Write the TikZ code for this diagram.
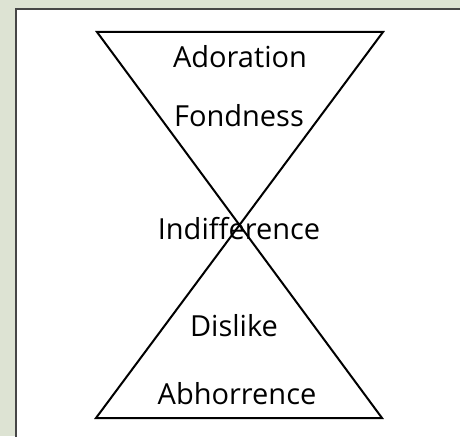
\documentclass[tikz,border=0pt]{standalone}
\usepackage{fontspec}
\setmainfont{Open Sans}
\begin{document}
\begin{tikzpicture}[x=1pt,y=-1pt,
  lbl/.style={inner sep=0pt,font=\fontsize{29}{34}\selectfont},
  edge/.style={draw=black,line width=2pt,line join=miter}]
\useasboundingbox (0,0) rectangle (460,436);
\fill[fill={rgb,255:red,221;green,227;blue,211}] (0,0) rectangle (460,436);
\filldraw[fill=white,draw={rgb,255:red,70;green,70;blue,70},line width=1.6pt] (16,9) rectangle (470,446);
\coordinate (tl) at (97,32);
\coordinate (tr) at (383,32);
\coordinate (bl) at (96,418);
\coordinate (br) at (382,418);
\draw[edge] (tl) -- (tr) -- (bl) -- (br) -- cycle;
\node[lbl] (ado) at (240,57) {Adoration};
\node[lbl] (fon) at (239,116) {Fondness};
\node[lbl] (ind) at (239,229) {Indifference};
\node[lbl] (dis) at (234,326) {Dislike};
\node[lbl] (abh) at (237,394) {Abhorrence};
\end{tikzpicture}
\end{document}
